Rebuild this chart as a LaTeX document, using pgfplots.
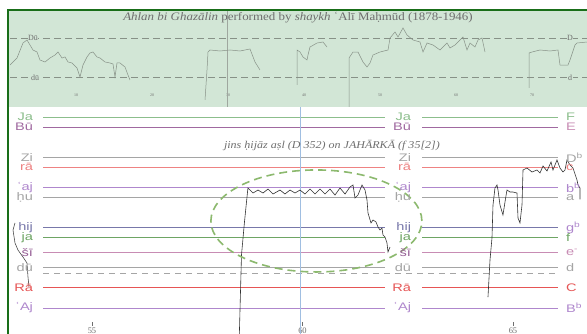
\documentclass[border=0pt]{standalone}
\usepackage{pgfplots}
\pgfplotsset{compat=1.18}
\usepackage{fontspec}
\setmainfont{Liberation Serif}
\newfontfamily\lsans{Liberation Sans}
\definecolor{frameg}{RGB}{25,110,25}
\definecolor{topbg}{RGB}{210,230,214}
\definecolor{topgray}{RGB}{135,145,135}
\definecolor{cgreen}{RGB}{140,190,140}
\definecolor{cmauve}{RGB}{160,105,160}
\definecolor{cgray}{RGB}{165,165,165}
\definecolor{cred}{RGB}{238,130,130}
\definecolor{cpurple}{RGB}{175,135,205}
\definecolor{cslate}{RGB}{120,120,170}
\definecolor{cgreen2}{RGB}{110,165,100}
\definecolor{cpink}{RGB}{200,140,180}
\definecolor{cpinkt}{RGB}{150,95,150}
\definecolor{cred2}{RGB}{230,85,85}
\definecolor{ellg}{RGB}{140,185,110}
\definecolor{vblue}{RGB}{160,190,225}
\definecolor{txtgray}{RGB}{110,110,110}
\begin{document}
\begin{tikzpicture}
\useasboundingbox (0,0) rectangle (587bp,334bp);
\clip (0,0) rectangle (587bp,334bp);
\fill[white] (0,0) rectangle (587bp,334bp);
\fill[topbg] (9bp,226.5bp) rectangle (587bp,324bp);
% ---------------- top panel ----------------
\begin{axis}[at={(10bp,227bp)}, anchor=south west, scale only axis,
  width=577bp, height=96bp, xmin=10, xmax=587, ymin=-9.14, ymax=20.4,
  axis line style={draw=none}, ytick=\empty,
  xtick={76,152,228,304,380,456,532},
  xticklabels={10,20,30,40,50,60,70},
  xtick style={draw=none},
  xticklabel style={anchor=center, yshift=12bp, font=\fontsize{4}{4.5}\selectfont, text=txtgray},
  /pgf/number format/assume math mode=true, clip=true]
\addplot[topgray!80, line width=0.4bp] coordinates {(227,-10) (227,21)};
\addplot[topgray, line width=0.5bp, dash pattern=on 7bp off 4bp] coordinates {(10,12) (587,12)};
\addplot[topgray, line width=0.5bp, dash pattern=on 7bp off 4bp] coordinates {(10,0) (587,0)};
\addplot[topgray, line width=0.5bp] coordinates {(10,3.78) (17,5.94) (23,10.55) (27,11.48) (30,9.94) (33,8.40) (37,7.78) (40,5.32) (45,4.71) (50,5.94) (55,6.86) (58,7.78) (62,5.94) (65,6.25) (68,4.71) (72,4.40) (77,2.86) (80,0.09) (83,3.78) (87,6.25) (90,7.48) (93,7.78) (97,6.25) (100,5.94) (105,4.71) (110,4.40) (113,4.09) (115,0.09) (117,4.40) (120,4.40) (125,3.17) (128,0.71) (130,-0.83)};
\addplot[topgray, line width=0.5bp] coordinates {(205,-6.98) (207,2.25) (208,7.78) (210,8.40) (220,8.09) (230,8.40) (240,8.09) (250,8.71) (255,4.71) (260,2.25)};
\addplot[topgray, line width=0.5bp] coordinates {(297,-2.37) (297,8.40) (300,7.78) (303,6.25) (307,5.32) (308,6.86) (310,9.32) (317,10.55) (323,10.86) (327,9.32)};
\addplot[topgray, line width=0.5bp] coordinates {(349,-9.45) (349,5.94) (353,7.78) (358,7.78) (363,4.71) (367,3.17) (370,4.40) (373,6.86) (380,7.78) (388,8.40) (390,12.09) (395,13.94) (398,12.40) (403,15.17) (407,13.02) (413,11.48) (420,10.86) (423,7.78) (427,10.55) (433,9.94) (440,8.40) (447,10.55) (450,9.02) (455,9.94) (460,11.48) (463,12.40) (467,8.40) (470,10.55) (475,9.32) (478,11.48) (482,12.09) (485,7.78)};
\addplot[topgray, line width=0.5bp] coordinates {(529,-3.29) (529,7.48) (532,7.78) (540,8.40) (550,8.09) (558,8.40) (560,3.78) (568,3.78) (570,5.32) (575,9.94) (577,10.55) (587,10.86)};
\node[font=\fontsize{8}{9}\selectfont, text=txtgray, fill=topbg, inner sep=0.5bp] at (axis cs:33,12) {Dū};
\node[font=\fontsize{8}{9}\selectfont, text=txtgray, fill=topbg, inner sep=0.5bp] at (axis cs:35,0) {dū};
\node[font=\fontsize{8}{9}\selectfont, text=txtgray, fill=topbg, inner sep=0.5bp] at (axis cs:570,12) {D};
\node[font=\fontsize{8}{9}\selectfont, text=txtgray, fill=topbg, inner sep=0.5bp] at (axis cs:570,0) {d};
\end{axis}
\node[font=\fontsize{11.5}{13}\selectfont, text=txtgray, xscale=1.13] at (298bp,316bp)
  {{\itshape Ahlan bi Ghazālin} performed by {\itshape shaykh} ʿAlī Maḥmūd (1878-1946)};
% ---------------- bottom panel ----------------
\begin{axis}[at={(0bp,0bp)}, anchor=south west, scale only axis,
  width=587bp, height=226bp, xmin=52.815, xmax=66.758, ymin=-2.587, ymax=19.90,
  axis line style={draw=none}, ytick=\empty,
  xtick={55,60,65},
  xticklabels={{\rule{0.4bp}{4bp}\\[-1.5bp]55},{\rule{0.4bp}{4bp}\\[-1.5bp]60},{\rule{0.4bp}{4bp}\\[-1.5bp]65}},
  xtick style={draw=none},
  xticklabel style={anchor=south, align=center, inner sep=0pt, yshift=0.5bp, font=\fontsize{8.5}{9}\selectfont, text=txtgray},
  /pgf/number format/assume math mode=true, clip=true]
% reference lines (left and right parts)
\addplot[cgreen, line width=0.8bp] coordinates {(53.84,19) (61.96,19)};
\addplot[cgreen, line width=0.8bp] coordinates {(62.84,19) (66.07,19)};
\addplot[cmauve, line width=0.8bp] coordinates {(53.84,18) (61.96,18)};
\addplot[cmauve, line width=0.8bp] coordinates {(62.84,18) (66.07,18)};
\addplot[cgray, line width=0.8bp] coordinates {(53.84,15) (61.96,15)};
\addplot[cgray, line width=0.8bp] coordinates {(62.84,15) (66.07,15)};
\addplot[cred, line width=0.8bp] coordinates {(53.84,14) (61.96,14)};
\addplot[cred, line width=0.8bp] coordinates {(62.84,14) (66.07,14)};
\addplot[cpurple, line width=0.8bp] coordinates {(53.84,12) (61.96,12)};
\addplot[cpurple, line width=0.8bp] coordinates {(62.84,12) (66.07,12)};
\addplot[cgray, line width=0.8bp] coordinates {(53.84,11) (61.96,11)};
\addplot[cgray, line width=0.8bp] coordinates {(62.84,11) (66.07,11)};
\addplot[cslate, line width=0.8bp] coordinates {(53.84,8) (61.96,8)};
\addplot[cslate, line width=0.8bp] coordinates {(62.84,8) (66.07,8)};
\addplot[cgreen2, line width=0.8bp] coordinates {(53.84,7) (61.96,7)};
\addplot[cgreen2, line width=0.8bp] coordinates {(62.84,7) (66.07,7)};
\addplot[cpink, line width=0.8bp] coordinates {(53.84,5.5) (61.96,5.5)};
\addplot[cpink, line width=0.8bp] coordinates {(62.84,5.5) (66.07,5.5)};
\addplot[cgray, line width=0.8bp] coordinates {(53.84,4) (61.96,4)};
\addplot[cgray, line width=0.8bp] coordinates {(62.84,4) (66.07,4)};
\addplot[cgray, line width=0.7bp, dash pattern=on 6bp off 5bp] coordinates {(53.84,3.48) (66.07,3.48)};
\addplot[cred2, line width=0.8bp] coordinates {(53.84,2) (61.96,2)};
\addplot[cred2, line width=0.8bp] coordinates {(62.84,2) (66.07,2)};
\addplot[cpurple, line width=0.8bp] coordinates {(53.84,0) (61.96,0)};
\addplot[cpurple, line width=0.8bp] coordinates {(62.84,0) (66.07,0)};
% time cursor
\addplot[vblue, line width=0.6bp] coordinates {(59.94,-3) (59.94,21)};
% pitch contours
\addplot[black!75, line width=0.55bp] coordinates {(53.171,8.46) (53.124,7.76) (53.171,6.47) (53.242,5.77) (53.361,5.07) (53.456,4.48) (53.480,3.08) (53.504,2.09)};
\addplot[black!80, line width=0.6bp] coordinates {(58.499,-2.79) (58.551,5.27) (58.622,8.56) (58.694,11.54) (58.705,11.94) (58.824,11.44) (58.943,11.74) (59.062,11.44) (59.181,11.84) (59.299,11.34) (59.466,11.74) (59.584,11.34) (59.703,11.74) (59.822,11.44) (59.941,11.74) (60.059,11.34) (60.178,11.84) (60.297,11.34) (60.416,11.84) (60.534,11.34) (60.653,11.84) (60.772,11.24) (60.891,11.94) (61.010,11.34) (61.128,12.04) (61.200,12.24) (61.247,10.95) (61.318,11.24) (61.413,12.24) (61.485,11.74) (61.532,10.75) (61.556,9.45) (61.627,8.46) (61.675,8.76) (61.746,8.56) (61.793,8.06) (61.841,7.76) (61.888,7.96) (61.912,7.26) (61.960,7.06) (62.007,6.47) (62.031,5.57) (62.078,6.07)};
\addplot[black!80, line width=0.6bp] coordinates {(64.406,1.09) (64.454,4.78) (64.501,6.97) (64.525,10.25) (64.572,11.94) (64.620,12.24) (64.644,11.74) (64.691,10.25) (64.762,9.25) (64.810,10.55) (64.857,11.74) (64.929,11.54) (65.000,11.54) (65.095,11.44) (65.119,8.96) (65.166,8.46) (65.214,10.25) (65.238,13.73) (65.333,13.93) (65.451,13.53) (65.570,13.73) (65.641,13.43) (65.713,14.13) (65.808,13.63) (65.903,14.53) (65.950,13.73) (66.045,14.73) (66.116,13.93) (66.188,13.53) (66.235,13.73) (66.283,14.73) (66.354,14.23) (66.425,13.93) (66.520,12.74) (66.544,12.24) (66.591,11.94) (66.591,10.8)};
% ellipse
\draw[ellg, line width=1.6bp, dash pattern=on 8bp off 5bp] (axis cs:60.33,8.66) ellipse [x radius=105.5bp, y radius=51bp];
% annotation
\node[font=\fontsize{10.5}{12}\selectfont\itshape, text=txtgray, xscale=1.15] at (axis cs:60.70,16.2) {jins ḥijāz aṣl (D 352) on JAHĀRKĀ (f 35[2])};
% labels
\begin{scope}[every node/.style={font=\lsans\fontsize{11}{12}\selectfont, inner sep=0.5bp, xscale=1.33}]
\node[anchor=east, text=cgreen] at (axis cs:53.62,19) {Ja};
\node[anchor=east, text=cmauve] at (axis cs:53.62,18) {Bū};
\node[anchor=east, text=cgray] at (axis cs:53.62,15) {Zi};
\node[anchor=east, text=cred] at (axis cs:53.62,14) {rā};
\node[anchor=east, text=cpurple] at (axis cs:53.62,12) {ʿaj};
\node[anchor=east, text=cgray] at (axis cs:53.62,11) {ḥu};
\node[anchor=east, text=cslate] at (axis cs:53.62,8) {hij};
\node[anchor=east, text=cgreen2] at (axis cs:53.62,7) {ja};
\node[anchor=east, text=cpinkt] at (axis cs:53.62,5.5) {šī};
\node[anchor=east, text=cgray] at (axis cs:53.62,4) {dū};
\node[anchor=east, text=cred2] at (axis cs:53.62,2) {Rā};
\node[anchor=east, text=cpurple] at (axis cs:53.62,0) {ʿAj};
% middle labels
\node[anchor=east, text=cgreen] at (axis cs:62.60,19) {Ja};
\node[anchor=east, text=cmauve] at (axis cs:62.60,18) {Bū};
\node[anchor=east, text=cgray] at (axis cs:62.60,15) {Zi};
\node[anchor=east, text=cred] at (axis cs:62.60,14) {rā};
\node[anchor=east, text=cpurple] at (axis cs:62.60,12) {ʿaj};
\node[anchor=east, text=cgray] at (axis cs:62.60,11) {ḥu};
\node[anchor=east, text=cslate] at (axis cs:62.60,8) {hij};
\node[anchor=east, text=cgreen2] at (axis cs:62.60,7) {ja};
\node[anchor=east, text=cpinkt] at (axis cs:62.60,5.5) {šī};
\node[anchor=east, text=cgray] at (axis cs:62.60,4) {dū};
\node[anchor=east, text=cred2] at (axis cs:62.60,2) {Rā};
\node[anchor=east, text=cpurple] at (axis cs:62.60,0) {ʿAj};
% right labels
\node[anchor=west, text=cgreen] at (axis cs:66.24,19) {F};
\node[anchor=west, text=cpink] at (axis cs:66.24,18) {E};
\node[anchor=west, text=cgray] at (axis cs:66.24,15) {D\textsuperscript{b}};
\node[anchor=west, text=cred] at (axis cs:66.24,14) {c};
\node[anchor=west, text=cpurple] at (axis cs:66.24,12) {b\textsuperscript{b}};
\node[anchor=west, text=cgray] at (axis cs:66.24,11) {a};
\node[anchor=west, text=cpurple] at (axis cs:66.24,8) {g\textsuperscript{b}};
\node[anchor=west, text=cgreen2] at (axis cs:66.24,7) {f};
\node[anchor=west, text=cpink] at (axis cs:66.24,5.5) {e\textsuperscript{-}};
\node[anchor=west, text=cgray] at (axis cs:66.24,4) {d};
\node[anchor=west, text=cred2] at (axis cs:66.24,2) {C};
\node[anchor=west, text=cpurple] at (axis cs:66.24,0) {B\textsuperscript{b}};
\end{scope}
\end{axis}
% frame
\draw[frameg, line width=2.5bp] (8bp,-5bp) -- (8bp,324bp) -- (600bp,324bp);
\end{tikzpicture}
\end{document}
